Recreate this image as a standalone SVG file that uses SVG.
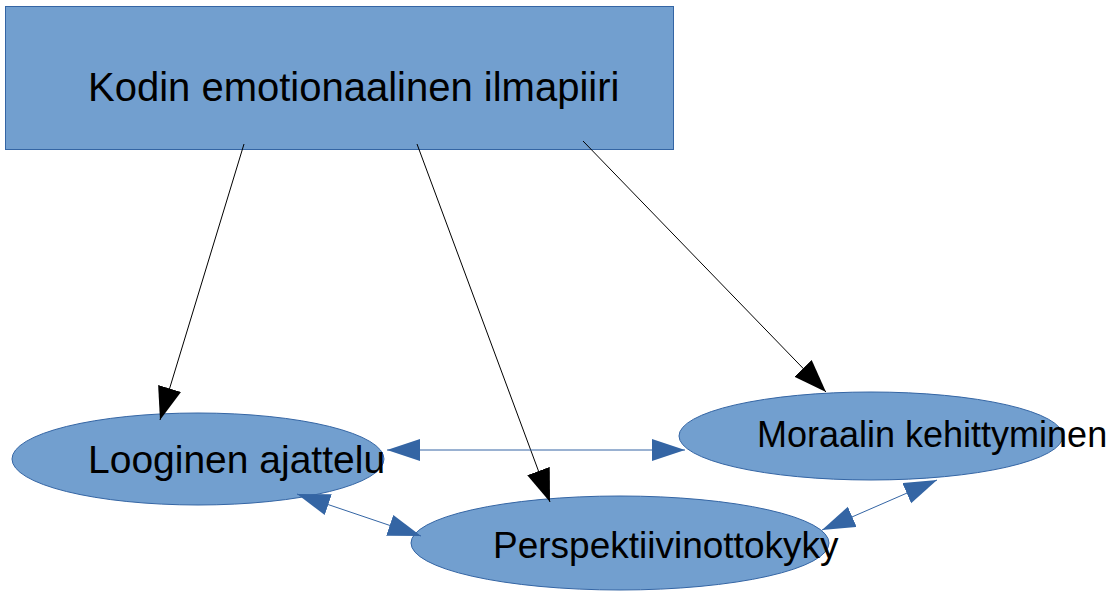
<svg xmlns="http://www.w3.org/2000/svg" width="1115" height="592" viewBox="0 0 1115 592">
<style>
.node{fill:#729fcf;stroke:#3465a4;stroke-width:1}
.lbl{font-family:"Liberation Sans",Arial,sans-serif;fill:#000}
.blk{stroke:#000;stroke-width:1;fill:none}
.blu{stroke:#3465a4;stroke-width:1;fill:none}
</style>
<defs>
<marker id="ah" markerUnits="userSpaceOnUse" markerWidth="34" markerHeight="26" refX="33" refY="12" orient="auto">
<path d="M0,0 L33,12 L0,24 z" fill="#000"/>
</marker>
<marker id="bh" markerUnits="userSpaceOnUse" markerWidth="34" markerHeight="24" refX="33" refY="11" orient="auto-start-reverse">
<path d="M0,0 L33,11 L0,22 z" fill="#3465a4"/>
</marker>
</defs>
<rect width="1115" height="592" fill="#fff"/>
<g id="kodin">
<rect class="node" x="5.5" y="6.5" width="668" height="143"/>
<text class="lbl" x="88" y="101" font-size="40">Kodin emotionaalinen ilmapiiri</text>
</g>
<g id="looginen">
<ellipse class="node" cx="198" cy="459" rx="186" ry="46"/>
<text class="lbl" x="88" y="473" font-size="39">Looginen ajattelu</text>
</g>
<g id="moraalin">
<ellipse class="node" cx="871" cy="436" rx="192" ry="44"/>
<text class="lbl" x="757" y="447" font-size="36">Moraalin kehittyminen</text>
</g>
<g id="perspektiivi">
<ellipse class="node" cx="620" cy="543" rx="209" ry="47"/>
<text class="lbl" x="493" y="558" font-size="37">Perspektiivinottokyky</text>
</g>
<g id="connectors">
<line class="blk" x1="244" y1="144" x2="160" y2="420" marker-end="url(#ah)"/>
<line class="blk" x1="417" y1="144" x2="550" y2="502" marker-end="url(#ah)"/>
<line class="blk" x1="583" y1="141" x2="826" y2="392" marker-end="url(#ah)"/>
<line class="blu" x1="387" y1="450" x2="685" y2="450" marker-start="url(#bh)" marker-end="url(#bh)"/>
<line class="blu" x1="297" y1="494" x2="421" y2="536" marker-start="url(#bh)" marker-end="url(#bh)"/>
<line class="blu" x1="822" y1="530" x2="937" y2="480" marker-start="url(#bh)" marker-end="url(#bh)"/>
</g>
</svg>
